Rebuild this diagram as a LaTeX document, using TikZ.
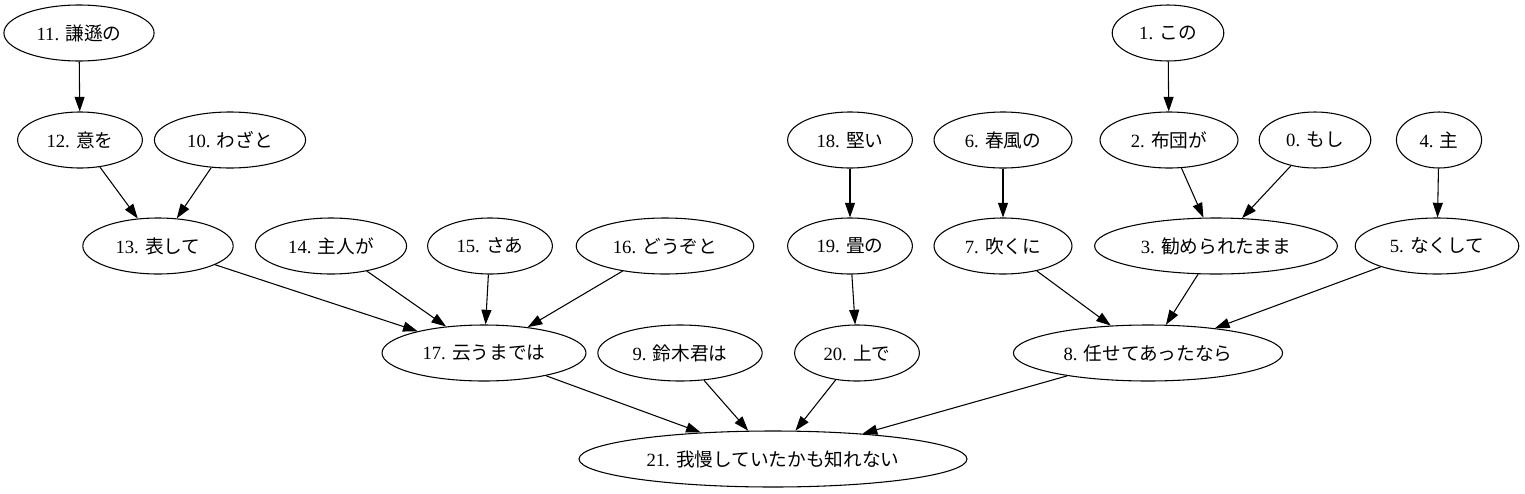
\documentclass[tikz,border=0pt]{standalone}
\usepackage{fontspec}
\setmainfont{Liberation Serif}
\newfontfamily\jpfont{Noto Sans CJK JP}
\newcommand{\jp}[1]{{\jpfont #1}}
\usepackage{tikz}
\usetikzlibrary{arrows.meta,shapes.geometric}

\begin{document}
\begin{tikzpicture}[
  x=0.75pt, y=-0.75pt,
  font=\fontsize{14pt}{16pt}\selectfont,
  word/.style={draw, ellipse, inner xsep=8pt, inner ysep=2pt, minimum height=42pt, line width=0.8pt},
  >={Triangle[length=11pt, width=7.5pt]},
  arrline/.style={->, line width=0.8pt},
]
\useasboundingbox (0,0) rectangle (1525,493);
\node[word] (n11) at (79,33) {11. \jp{謙遜の}};
\node[word] (n12) at (80,140) {12. \jp{意を}};
\node[word] (n10) at (230,140) {10. \jp{わざと}};
\node[word] (n13) at (158,246) {13. \jp{表して}};
\node[word] (n14) at (331,246) {14. \jp{主人が}};
\node[word] (n15) at (490,246) {15. \jp{さあ}};
\node[word] (n16) at (665,246) {16. \jp{どうぞと}};
\node[word] (n17) at (484,353) {17. \jp{云うまでは}};
\node[word] (n9) at (680,353) {9. \jp{鈴木君は}};
\node[word] (n18) at (850,140) {18. \jp{堅い}};
\node[word] (n19) at (850,246) {19. \jp{畳の}};
\node[word] (n20) at (857,353) {20. \jp{上で}};
\node[word] (n6) at (1003,140) {6. \jp{春風の}};
\node[word] (n7) at (1003,246) {7. \jp{吹くに}};
\node[word] (n1) at (1168,33) {1. \jp{この}};
\node[word] (n2) at (1169,140) {2. \jp{布団が}};
\node[word] (n0) at (1315,140) {0. \jp{もし}};
\node[word] (n4) at (1439,140) {4. \jp{主}};
\node[word] (n3) at (1216,246) {3. \jp{勧められたまま}};
\node[word] (n5) at (1437,246) {5. \jp{なくして}};
\node[word] (n8) at (1148,353) {8. \jp{任せてあったなら}};
\node[word] (n21) at (773,459) {21. \jp{我慢していたかも知れない}};
\draw[arrline] (n11) -- (n12);
\draw[arrline] (n12) -- (n13);
\draw[arrline] (n10) -- (n13);
\draw[arrline] (n13) -- (n17);
\draw[arrline] (n14) -- (n17);
\draw[arrline] (n15) -- (n17);
\draw[arrline] (n16) -- (n17);
\draw[arrline] (n17) -- (n21);
\draw[arrline] (n9) -- (n21);
\draw[arrline] (n18) -- (n19);
\draw[arrline] (n19) -- (n20);
\draw[arrline] (n20) -- (n21);
\draw[arrline] (n6) -- (n7);
\draw[arrline] (n7) -- (n8);
\draw[arrline] (n1) -- (n2);
\draw[arrline] (n2) -- (n3);
\draw[arrline] (n0) -- (n3);
\draw[arrline] (n4) -- (n5);
\draw[arrline] (n3) -- (n8);
\draw[arrline] (n5) -- (n8);
\draw[arrline] (n8) -- (n21);
\end{tikzpicture}
\end{document}
